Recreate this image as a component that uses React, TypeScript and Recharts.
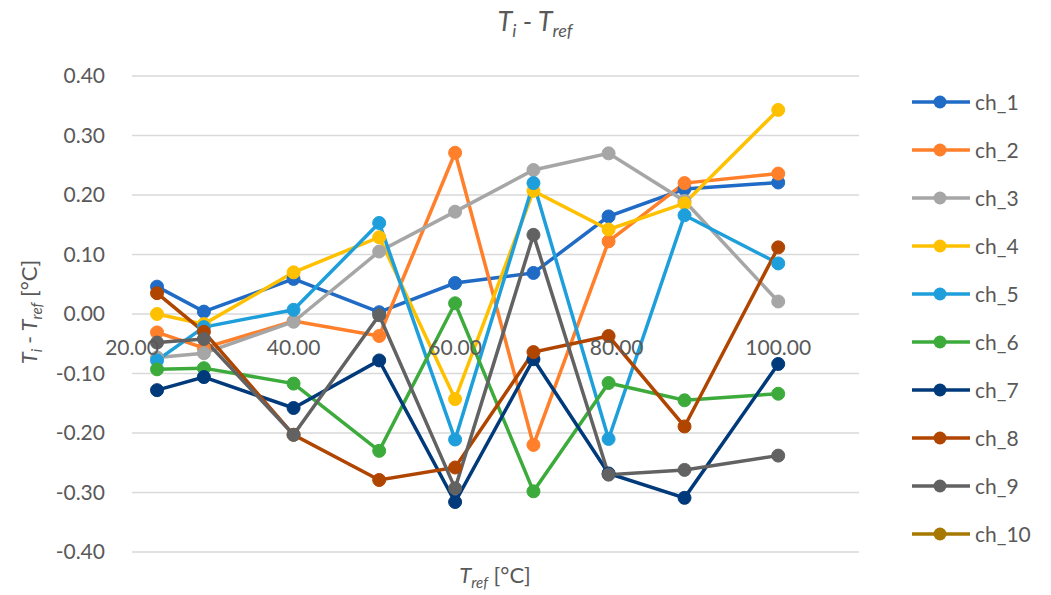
import React from "react";
import { LineChart, Line, XAxis, YAxis, CartesianGrid, ReferenceDot } from "recharts";

const xValues = [23.1, 28.9, 40, 50.6, 60, 69.7, 79, 88.4, 100];
const xTicks = [20, 40, 60, 80, 100];
const yTicks = [-0.4, -0.3, -0.2, -0.1, 0, 0.1, 0.2, 0.3, 0.4];

const ch1 = [0.046, 0.004, 0.059, 0.003, 0.052, 0.069, 0.164, 0.21, 0.221];
const ch2 = [-0.031, -0.057, -0.012, -0.037, 0.271, -0.22, 0.122, 0.22, 0.236];
const ch3 = [-0.073, -0.066, -0.013, 0.105, 0.172, 0.242, 0.27, 0.19, 0.021];
const ch4 = [0.0, -0.017, 0.07, 0.129, -0.143, 0.207, 0.142, 0.186, 0.343];
const ch5 = [-0.078, -0.022, 0.007, 0.153, -0.211, 0.22, -0.21, 0.166, 0.085];
const ch6 = [-0.093, -0.091, -0.117, -0.23, 0.018, -0.298, -0.116, -0.145, -0.134];
const ch7 = [-0.128, -0.106, -0.158, -0.078, -0.316, -0.076, -0.268, -0.309, -0.084];
const ch8 = [0.035, -0.03, -0.203, -0.279, -0.258, -0.064, -0.037, -0.189, 0.112];
const ch9 = [-0.048, -0.042, -0.203, -0.002, -0.293, 0.133, -0.27, -0.262, -0.238];
const ch10: (number | null)[] = [null, null, null, null, null, null, null, null, null];

const seriesNames = ["ch_1", "ch_2", "ch_3", "ch_4", "ch_5", "ch_6", "ch_7", "ch_8", "ch_9", "ch_10"];
const seriesValues = [ch1, ch2, ch3, ch4, ch5, ch6, ch7, ch8, ch9, ch10];
const seriesColors = [
  "#1F6BC6",
  "#FF7F2A",
  "#A6A6A6",
  "#FFC000",
  "#1E9FDB",
  "#3CAB3C",
  "#003A7A",
  "#B04500",
  "#626262",
  "#A67800",
];

const data = xValues.map((x, i) => {
  const row: Record<string, number | null> = { x };
  seriesNames.forEach((n, k) => {
    row[n] = seriesValues[k][i];
  });
  return row;
});

const FONT = "Lato, 'Open Sans', sans-serif";
const TEXT = "#595959";

export default function App() {
  return (
    <div style={{ position: "absolute", left: 0, top: 0, width: 1051, height: 595, background: "#fff", fontFamily: FONT }}>
      <LineChart
        width={1051}
        height={595}
        data={data}
        margin={{ top: 76, right: 192, bottom: 43, left: 0 }}
      >
        <CartesianGrid
          stroke="#D9D9D9"
          strokeWidth={1.5}
          verticalValues={xTicks}
          horizontalValues={yTicks}
        />
        <XAxis
          type="number"
          dataKey="x"
          domain={[20, 110]}
          ticks={xTicks}
          tick={false}
          axisLine={false}
          tickLine={false}
          height={0}
        />
        <YAxis
          type="number"
          domain={[-0.4, 0.4]}
          ticks={yTicks}
          width={132}
          axisLine={false}
          tickLine={false}
          tickSize={0}
          tickMargin={27}
          tickFormatter={(v: number) => v.toFixed(2)}
          tick={{ fill: TEXT, fontSize: 21, fontFamily: FONT }}
        />
        {xTicks.map((t) => (
          <ReferenceDot
            key={t}
            x={t}
            y={0}
            r={0}
            fill="none"
            stroke="none"
            label={{ value: t.toFixed(2), position: "bottom", offset: 26, fill: TEXT, fontSize: 21, fontFamily: FONT }}
          />
        ))}
        {seriesNames.map((n, k) => (
          <Line
            key={n}
            dataKey={n}
            stroke={seriesColors[k]}
            strokeWidth={3.5}
            dot={{ r: 6.5, fill: seriesColors[k], stroke: seriesColors[k], strokeWidth: 1 }}
            activeDot={false}
            isAnimationActive={false}
            connectNulls={false}
          />
        ))}
      </LineChart>
      <svg
        width={1051}
        height={595}
        style={{ position: "absolute", left: 0, top: 0, pointerEvents: "none" }}
        fontFamily={FONT}
      >
        <text x={535} y={31} textAnchor="middle" fontSize={27} fill={TEXT} fontStyle="italic">
          <tspan>T</tspan>
          <tspan fontSize={18} dy={6}>i</tspan>
          <tspan dy={-6}> - T</tspan>
          <tspan fontSize={18} dy={6}>ref</tspan>
        </text>
        <text x={495} y={583} textAnchor="middle" fontSize={22} fill={TEXT}>
          <tspan fontStyle="italic">T</tspan>
          <tspan fontStyle="italic" fontSize={15} dy={5}>ref</tspan>
          <tspan dy={-5}> [°C]</tspan>
        </text>
        <text x={37} y={312} textAnchor="middle" fontSize={22} fill={TEXT} transform="rotate(-90 37 312)">
          <tspan fontStyle="italic">T</tspan>
          <tspan fontStyle="italic" fontSize={15} dy={5}>i</tspan>
          <tspan fontStyle="italic" dy={-5}> - T</tspan>
          <tspan fontStyle="italic" fontSize={15} dy={5}>ref</tspan>
          <tspan dy={-5}> [°C]</tspan>
        </text>
        {seriesNames.map((n, k) => {
          const cy = 102 + k * 48;
          return (
            <g key={n}>
              <line x1={912} x2={970} y1={cy} y2={cy} stroke={seriesColors[k]} strokeWidth={3.5} />
              <circle cx={940} cy={cy} r={6.5} fill={seriesColors[k]} />
              <text x={975} y={cy + 7.5} fontSize={21} fill={TEXT}>
                {n}
              </text>
            </g>
          );
        })}
      </svg>
    </div>
  );
}
